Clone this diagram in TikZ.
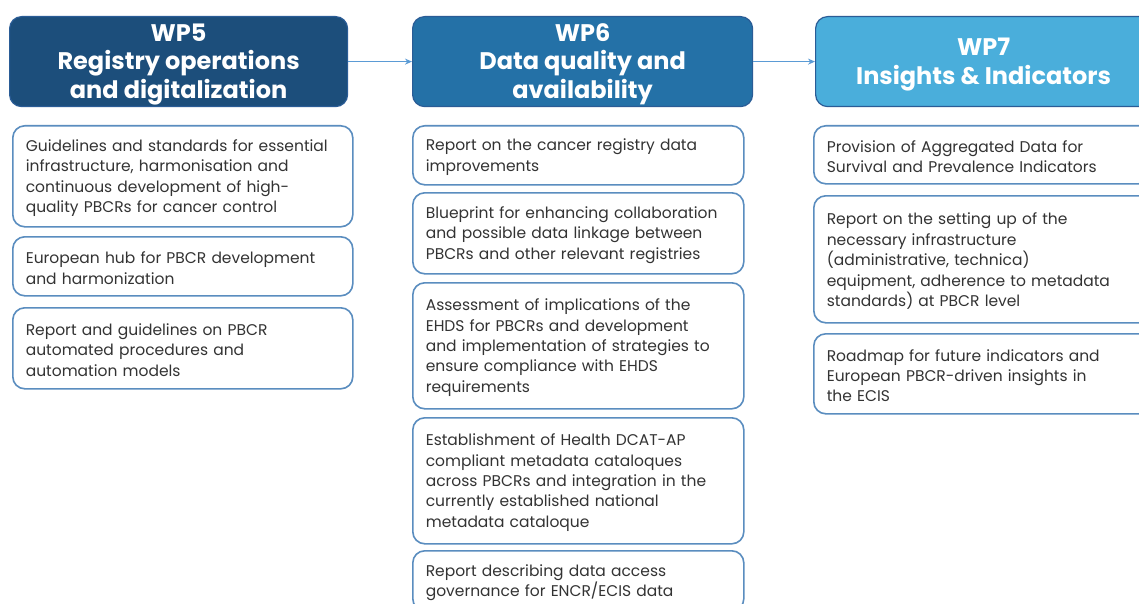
\documentclass[tikz,border=0pt]{standalone}
\usepackage{fontspec}
\setmainfont{Poppins}
\usetikzlibrary{arrows.meta}
\definecolor{wpfive}{HTML}{1C4E7B}
\definecolor{wpsix}{HTML}{2471A7}
\definecolor{wpseven}{HTML}{4AAEDB}
\definecolor{hdrline}{HTML}{2A5C96}
\definecolor{itemline}{HTML}{5A8DBF}
\definecolor{bodytext}{HTML}{333333}
\definecolor{arrowblue}{HTML}{5B9BD5}
\newcommand\hstrut{\rule{0pt}{23pt}}
\newcommand\bstrut{\rule{0pt}{15.5pt}}
\begin{document}
\begin{tikzpicture}[x=1pt,y=-1pt,
  hdr/.style={draw=hdrline, line width=1.2pt, rounded corners=12pt, minimum width=#1, minimum height=90pt,
    text=white, font=\fontsize{24}{28.5}\selectfont\bfseries, align=center, anchor=north west, inner sep=0pt},
  item/.style={draw=itemline, line width=1.6pt, rounded corners=12pt, fill=white, text=bodytext,
    font=\fontsize{15.5}{20.4}\selectfont, align=left, anchor=north west, inner xsep=13pt, inner ysep=0pt},
  arr/.style={draw=arrowblue, line width=1.2pt, -{Stealth[length=7pt,width=6pt]}}
]
\path[use as bounding box] (0,0) rectangle (1139,604);
\clip (0,0) rectangle (1139,604);
\fill[white] (0,0) rectangle (1139,604);

% headers
\node[hdr=338pt, fill=wpfive] (wp5) at (9,16) {\hstrut WP5\\Registry operations\\and digitalization};
\node[hdr=340pt, fill=wpsix] (wp6) at (412,16) {\hstrut WP6\\Data quality and\\availability};
\node[hdr=336pt, fill=wpseven] (wp7) at (815,16) {\hstrut WP7\\Insights \& Indicators};

\draw[arr] (wp5.east) -- (wp6.west);
\draw[arr] (wp6.east) -- (wp7.west);

% WP5 column
\node[item, text width=314pt, minimum height=101pt] (a1) at (12,125)
  {\bstrut Guidelines and standards for essential\\infrastructure, harmonisation and\\continuous development of high-\\quality PBCRs for cancer control};
\node[item, text width=314pt, minimum height=59pt] (a2) at (12,236)
  {\bstrut European hub for PBCR development\\and harmonization};
\node[item, text width=314pt, minimum height=81pt] (a3) at (12,307)
  {\bstrut Report and guidelines on PBCR\\automated procedures and\\automation models};

% WP6 column
\node[item, text width=305pt, minimum height=59pt] (b1) at (412,125)
  {\bstrut Report on the cancer registry data\\improvements};
\node[item, text width=305pt, minimum height=81pt] (b2) at (412,192)
  {\bstrut Blueprint for enhancing collaboration\\and possible data linkage between\\PBCRs and other relevant registries};
\node[item, text width=305pt, minimum height=126pt] (b3) at (412,282)
  {\bstrut Assessment of implications of the\\EHDS for PBCRs and development\\and implementation of strategies to\\ensure compliance with EHDS\\requirements};
\node[item, text width=305pt, minimum height=126pt] (b4) at (412,417)
  {\bstrut Establishment of Health DCAT-AP\\compliant metadata cataloques\\across PBCRs and integration in the\\currently established national\\metadata cataloque};
\node[item, text width=305pt, minimum height=60pt] (b5) at (412,550)
  {\bstrut Report describing data access\\governance for ENCR/ECIS data};

% WP7 column
\node[item, text width=311pt, minimum height=58pt] (c1) at (813,125)
  {\bstrut Provision of Aggregated Data for\\Survival and Prevalence Indicators};
\node[item, text width=311pt, minimum height=127pt] (c2) at (813,195)
  {\bstrut Report on the setting up of the\\necessary infrastructure\\(administrative, technica)\\equipment, adherence to metadata\\standards) at PBCR level};
\node[item, text width=311pt, minimum height=80pt] (c3) at (813,333)
  {\bstrut Roadmap for future indicators and\\European PBCR-driven insights in\\the ECIS};
\end{tikzpicture}
\end{document}
